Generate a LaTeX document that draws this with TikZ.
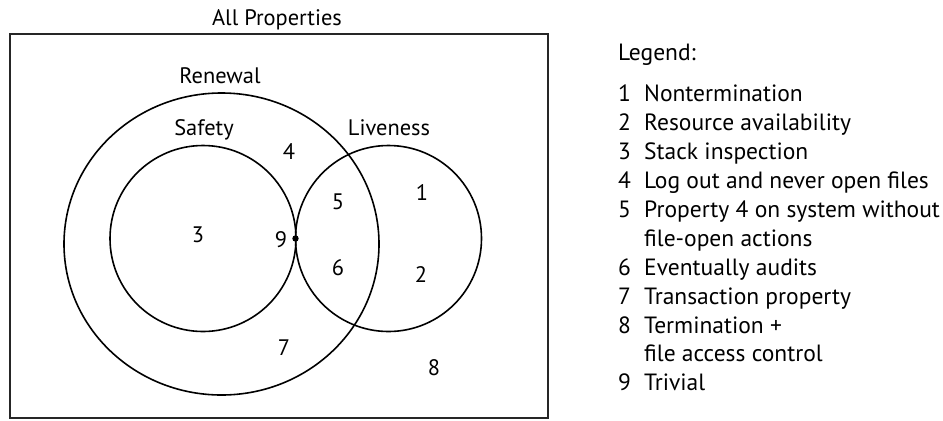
\documentclass[tikz,border=0pt]{standalone}
\usepackage{fontspec}
\setmainfont{PT Sans}
\begin{document}
\begin{tikzpicture}[x=1bp,y=-1bp,
  shape line/.style={line width=1.6bp},
  lbl/.style={inner sep=0pt,font=\fontsize{22.5}{26}\selectfont},
  leg/.style={inner sep=0pt,anchor=base west,font=\fontsize{23.6}{28}\selectfont}]
\useasboundingbox (0,0) rectangle (943,420);
% frame
\draw[line width=1.5bp,black!85] (10,34) rectangle (548,418);
\node[lbl,anchor=base] (all) at (277,25.5) {All Properties};
% sets
\draw[shape line] (221.5,244) ellipse [x radius=157.5, y radius=151];
\draw[shape line] (203,238.5) circle [radius=93];
\draw[shape line] (388.5,238.5) circle [radius=93];
\fill (295.5,238.5) circle [radius=3.2];
\node[lbl,anchor=base] (ren) at (220,83) {Renewal};
\node[lbl,anchor=base] (saf) at (204,135.5) {Safety};
\node[lbl,anchor=base] (liv) at (389,135) {Liveness};
% numbers
\node[lbl] (n1) at (422,193) {1};
\node[lbl] (n2) at (421,275) {2};
\node[lbl] (n3) at (198,235) {3};
\node[lbl] (n4) at (289,152) {4};
\node[lbl] (n5) at (338,202) {5};
\node[lbl] (n6) at (338,268) {6};
\node[lbl] (n7) at (284,348) {7};
\node[lbl] (n8) at (434,368) {8};
\node[lbl] (n9) at (281,240) {9};
% legend
\node[leg] (lg) at (618,60) {Legend:};
\foreach \n/\t/\y in {1/Nontermination/101,
  2/Resource availability/130,
  3/Stack inspection/159,
  4/Log out and never open files/188,
  5/Property 4 on system without/217,
  6/Eventually audits/275.5,
  7/Transaction property/304,
  8/Termination +/333,
  9/Trivial/390}{
  \node[leg] (k\n) at (618,\y) {\n};
  \node[leg] (t\n) at (644,\y) {\t};
}
\node[leg] (t5b) at (644,246) {file-open actions};
\node[leg] (t8b) at (644,361.5) {file access control};
\end{tikzpicture}
\end{document}
